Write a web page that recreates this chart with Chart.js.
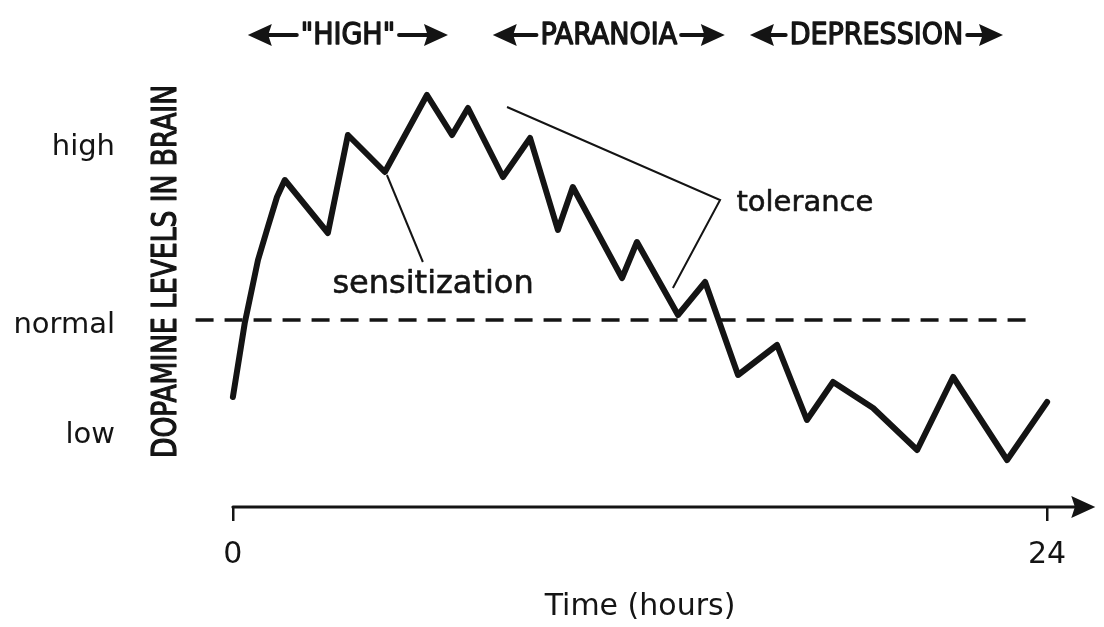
<!DOCTYPE html>
<html>
<head>
<meta charset="utf-8">
<script src="https://cdn.jsdelivr.net/npm/chart.js@4"></script>
<style>
  html, body { margin: 0; padding: 0; background: #fff; }
  #wrap { width: 1104px; height: 627px; }
</style>
</head>
<body>
<div id="wrap"><canvas id="dopamineChart"></canvas></div>
<script>
// Dopamine curve: time in hours, level in arbitrary units (0 = time axis)
const hours = [0, 0.35, 0.74, 1.03, 1.30, 1.53, 2.80, 3.39, 4.48, 5.72, 6.46, 6.93, 7.96, 8.76, 9.58, 10.02, 11.47, 11.91, 13.12, 13.92, 14.89, 16.04, 16.92, 17.69, 18.87, 20.17, 21.23, 22.82, 24];
const dopamine = [11.0, 18.4, 24.7, 28.0, 31.0, 32.7, 27.4, 37.2, 33.5, 41.2, 37.2, 39.9, 33.0, 36.9, 27.7, 32.0, 22.9, 26.5, 19.2, 22.5, 13.2, 16.2, 8.7, 12.5, 9.9, 5.7, 13.0, 4.7, 10.5];

// Normal level (dashed line)
const normalHours = [-1.1, 23.65];
const normalLevel = [18.7, 18.7];

// Tick labels
const xTickValues = [0, 24];
const yTickValues = [7.2, 18.2, 36.0];
const yTickLabels = ['low', 'normal', 'high'];
const axisEnd = 25.42;

// Phases along the top
const phaseLabels = ['"HIGH"', 'PARANOIA', 'DEPRESSION'];
const phaseStart = [0.44, 7.66, 15.24];
const phaseEnd = [6.34, 14.50, 22.70];
const phaseLevel = 47.2;

// Annotations and their leader lines
const sensHours = [4.54, 5.60];
const sensLevels = [33.2, 24.5];
const sensText = { label: 'sensitization', hour: 5.90, level: 22.2 };
const tolHours = [8.08, 14.36, 12.97];
const tolLevels = [40.0, 30.7, 21.9];
const tolText = { label: 'tolerance', hour: 16.86, level: 30.4 };
const yTitle = { label: 'DOPAMINE LEVELS IN BRAIN', from: 4.9, to: 42.2 };

const ink = '#141414';
const handFont = '"DejaVu Sans", sans-serif';
const capsFont = '"Liberation Sans Narrow", "DejaVu Sans Condensed", sans-serif';

function toPoints(xs, ys) {
    return xs.map((v, i) => ({ x: v, y: ys[i] }));
}

function drawArrow(ctx, fromX, toX, yPix, head, half, width) {
    // shaft then filled head pointing at toX
    const dir = toX > fromX ? 1 : -1;
    ctx.lineWidth = width;
    ctx.beginPath();
    ctx.moveTo(fromX, yPix);
    ctx.lineTo(toX - dir * head * 0.8, yPix);
    ctx.stroke();
    ctx.beginPath();
    ctx.moveTo(toX, yPix);
    ctx.lineTo(toX - dir * head, yPix - half);
    ctx.lineTo(toX - dir * head * 0.85, yPix);
    ctx.lineTo(toX - dir * head, yPix + half);
    ctx.closePath();
    ctx.fill();
}

// fill plus a thin outline, to get the heavier felt-pen look
function heavyText(ctx, text, px, py, weight) {
    ctx.lineWidth = weight;
    ctx.lineJoin = 'round';
    ctx.strokeText(text, px, py);
    ctx.fillText(text, px, py);
}

// Plugin for the hand drawn extras: time axis arrow, phases, labels
const sketchExtras = {
    id: 'sketchExtras',
    afterDraw(chart) {
        const { ctx, chartArea } = chart;
        const x = chart.scales.x;
        const y = chart.scales.y;
        ctx.save();
        ctx.strokeStyle = ink;
        ctx.fillStyle = ink;
        ctx.lineCap = 'round';

        // time axis
        const y0 = y.getPixelForValue(0);
        drawArrow(ctx, x.getPixelForValue(0), x.getPixelForValue(axisEnd), y0, 24, 11, 3);

        // y axis title, between tick labels and plot, squeezed to its length
        const top = y.getPixelForValue(yTitle.to);
        const bottom = y.getPixelForValue(yTitle.from);
        ctx.save();
        ctx.translate(chartArea.left - 15, (top + bottom) / 2);
        ctx.rotate(-Math.PI / 2);
        ctx.font = '34px ' + capsFont;
        const tw = ctx.measureText(yTitle.label).width;
        ctx.scale((bottom - top) / tw, 1);
        ctx.textAlign = 'center';
        ctx.textBaseline = 'middle';
        heavyText(ctx, yTitle.label, 0, 0, 1.2);
        ctx.restore();

        // phase labels with arrows
        ctx.font = '30px ' + capsFont;
        ctx.textAlign = 'center';
        ctx.textBaseline = 'middle';
        const py = y.getPixelForValue(phaseLevel);
        phaseLabels.forEach((label, i) => {
            const l = x.getPixelForValue(phaseStart[i]);
            const r = x.getPixelForValue(phaseEnd[i]);
            const cx = (l + r) / 2;
            const w = ctx.measureText(label).width;
            heavyText(ctx, label, cx, py + 1, 1.3);
            drawArrow(ctx, cx - w / 2 - 4, l, py, 24, 11, 4);
            drawArrow(ctx, cx + w / 2 + 4, r, py, 24, 11, 4);
        });

        // annotation words
        ctx.font = '32px ' + handFont;
        heavyText(ctx, sensText.label, x.getPixelForValue(sensText.hour), y.getPixelForValue(sensText.level), 0.6);
        ctx.font = '29px ' + handFont;
        heavyText(ctx, tolText.label, x.getPixelForValue(tolText.hour), y.getPixelForValue(tolText.level), 0.6);
        ctx.restore();
    }
};

const chartCtx = document.getElementById('dopamineChart').getContext('2d');
const dopamineChart = new Chart(chartCtx, {
    type: 'line',
    data: {
        datasets: [
            {
                label: 'Dopamine',
                data: toPoints(hours, dopamine),
                borderColor: ink,
                borderWidth: 6,
                borderJoinStyle: 'round',
                borderCapStyle: 'round',
                pointRadius: 0,
                tension: 0,
                fill: false
            },
            {
                label: 'Normal',
                data: toPoints(normalHours, normalLevel),
                borderColor: ink,
                borderWidth: 3.5,
                borderDash: [18, 11],
                pointRadius: 0,
                fill: false
            },
            {
                label: 'Sensitization',
                data: toPoints(sensHours, sensLevels),
                borderColor: ink,
                borderWidth: 2,
                pointRadius: 0,
                fill: false
            },
            {
                label: 'Tolerance',
                data: toPoints(tolHours, tolLevels),
                borderColor: ink,
                borderWidth: 2,
                pointRadius: 0,
                fill: false
            }
        ]
    },
    options: {
        responsive: true,
        maintainAspectRatio: false,
        animation: false,
        layout: { padding: { top: 77, right: 6, left: 0, bottom: 0 } },
        plugins: {
            legend: { display: false },
            tooltip: { enabled: false }
        },
        scales: {
            x: {
                type: 'linear',
                min: -1.5,
                max: 25.5,
                afterBuildTicks: scale => { scale.ticks = xTickValues.map(v => ({ value: v })); },
                afterFit: scale => {
                    scale.height = 120;
                    scale.paddingLeft = 0;
                    scale.paddingRight = 0;
                },
                border: { display: false },
                grid: {
                    drawOnChartArea: false,
                    drawTicks: true,
                    tickLength: 14,
                    color: ink,
                    lineWidth: 2.5
                },
                ticks: {
                    color: ink,
                    padding: 16,
                    maxRotation: 0,
                    font: { family: handFont, size: 30 },
                    callback: v => String(v)
                },
                title: {
                    display: true,
                    text: 'Time (hours)',
                    color: ink,
                    padding: { top: 0, bottom: 2 },
                    font: { family: handFont, size: 30 }
                }
            },
            y: {
                type: 'linear',
                min: 0,
                max: 43,
                afterBuildTicks: scale => { scale.ticks = yTickValues.map(v => ({ value: v })); },
                afterFit: scale => {
                    scale.width = 182;
                    scale.paddingTop = 0;
                    scale.paddingBottom = 0;
                },
                border: { display: false },
                grid: { display: false, drawTicks: false },
                ticks: {
                    color: ink,
                    padding: 67,
                    font: { family: handFont, size: 29 },
                    callback: (v, i) => yTickLabels[i]
                }
            }
        }
    },
    plugins: [sketchExtras]
});
</script>
</body>
</html>
